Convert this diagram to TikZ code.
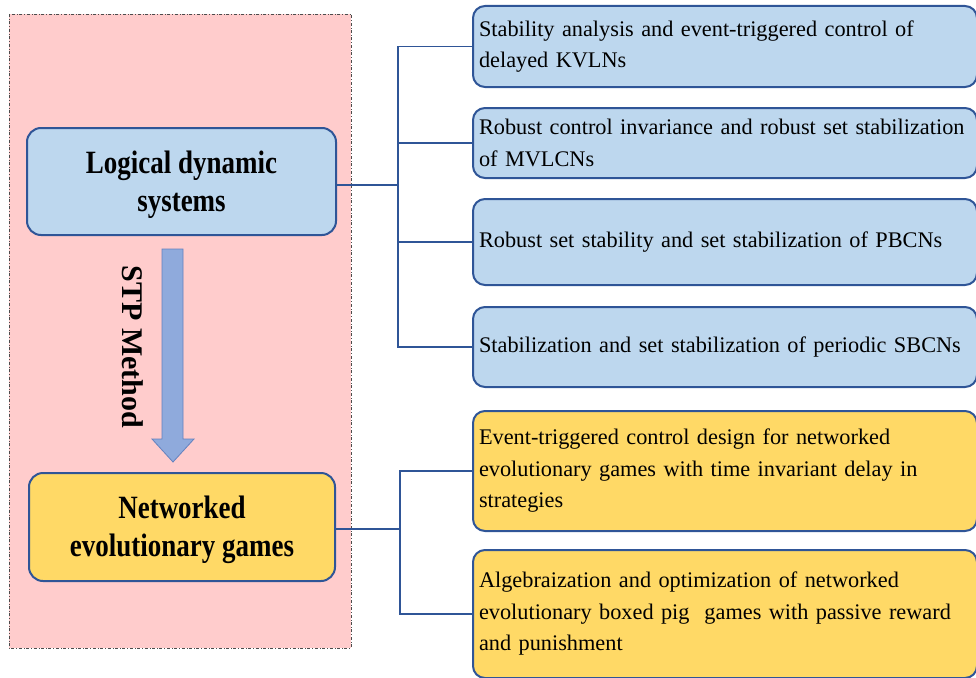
\documentclass[tikz,border=0pt]{standalone}
\usepackage{fontspec}
\setmainfont{Liberation Serif}
\newfontfamily\narrowbold[FakeStretch=0.83]{Liberation Serif}
\usetikzlibrary{calc}
\definecolor{panelpink}{RGB}{255,204,204}
\definecolor{boxblue}{RGB}{189,215,238}
\definecolor{boxgold}{RGB}{255,217,102}
\definecolor{edgeblue}{RGB}{47,85,151}
\definecolor{arrowfill}{RGB}{143,170,220}
\definecolor{arrowedge}{RGB}{100,130,190}
\newcommand{\toplift}{\rule{0pt}{29pt}}
\tikzset{
  mainbox/.style={draw=edgeblue, line width=2pt, rounded corners=14pt,
    align=center, font=\narrowbold\fontsize{32.5}{38}\selectfont\bfseries, inner sep=0pt},
  topicbox/.style={draw=edgeblue, line width=2pt, rounded corners=12pt,
    anchor=north west, minimum width=503pt, text width=492pt, inner xsep=6pt,
    inner ysep=0pt, align=left, font=\fontsize{22.3}{31.5}\selectfont},
  conn/.style={draw=edgeblue, line width=1.8pt},
}
\begin{document}
\begin{tikzpicture}[x=1pt,y=-1pt]
  \clip (0,0) rectangle (976,677);
  \useasboundingbox (0,0) rectangle (976,677);

  % background panel for the left column
  \draw[fill=panelpink, draw=black!70, dash dot, line width=0.8pt]
    (9,14) rectangle (351,648);

  % main topics
  \node[mainbox, fill=boxblue, minimum width=309pt, minimum height=107pt]
    (lds) at (181.5,181.5) {\toplift Logical dynamic\\systems};
  \node[mainbox, fill=boxgold, minimum width=306pt, minimum height=108pt]
    (neg) at (182,527) {\toplift Networked\\evolutionary games};

  % method arrow between the two main topics
  \draw[fill=arrowfill, draw=arrowedge, line width=0.8pt]
    (162,249) -- (183,249) -- (183,439) -- (194,439) -- (173,462)
    -- (152,439) -- (162,439) -- cycle;
  \node[rotate=-90, font=\fontsize{30}{34}\selectfont\bfseries]
    (stp) at (133,347) {STP Method};

  % research items
  \node[topicbox, fill=boxblue, minimum height=81pt] (r1) at (472,5)
    {Stability analysis and event-triggered control of\\delayed KVLNs};
  \node[topicbox, fill=boxblue, minimum height=70pt] (r2) at (472,107)
    {Robust control invariance and robust set stabilization\\of MVLCNs};
  \node[topicbox, fill=boxblue, minimum height=86pt] (r3) at (472,198)
    {Robust set stability and set stabilization of PBCNs};
  \node[topicbox, fill=boxblue, minimum height=80pt] (r4) at (472,306)
    {Stabilization and set stabilization of periodic SBCNs};
  \node[topicbox, fill=boxgold, minimum height=120pt] (r5) at (472,410)
    {Event-triggered control design for networked\\evolutionary games with time invariant delay in\\strategies};
  \node[topicbox, fill=boxgold, minimum height=128pt] (r6) at (472,549)
    {Algebraization and optimization of networked\\evolutionary boxed pig\ \ games with passive reward\\and punishment};

  % tree connectors
  \coordinate (busA) at (398,0);
  \coordinate (busB) at (400,0);
  \draw[conn] ([yshift=-3.5pt]lds.east) -- ([yshift=-3.5pt]lds.east -| busA);
  \draw[conn] (r1.west) -- (r1.west -| busA) -- (r4.west -| busA) -- (r4.west);
  \draw[conn] (r2.west) -- (r2.west -| busA);
  \draw[conn] (r3.west) -- (r3.west -| busA);
  \draw[conn] ([yshift=-2pt]neg.east) -- ([yshift=-2pt]neg.east -| busB);
  \draw[conn] (r5.west) -- (r5.west -| busB) -- (r6.west -| busB) -- (r6.west);
\end{tikzpicture}
\end{document}
